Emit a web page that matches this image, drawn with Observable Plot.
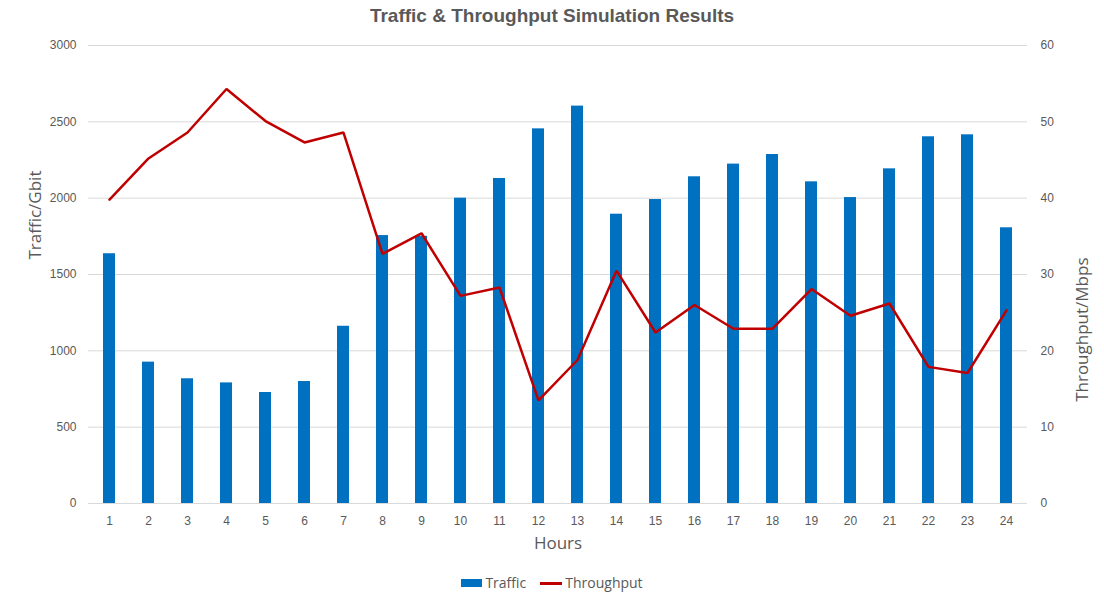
<!DOCTYPE html>
<html>
<head>
<meta charset="utf-8">
<script src="https://cdn.jsdelivr.net/npm/d3@7"></script>
<script src="https://cdn.jsdelivr.net/npm/@observablehq/plot@0.6"></script>
<style>
  html, body { margin: 0; padding: 0; background: #fff; }
  #wrap { position: relative; width: 1104px; height: 594px; overflow: hidden; font-family: "Liberation Sans", Arial, sans-serif; }
  #title { position: absolute; top: 5px; left: 0; width: 1104px; text-align: center; font-family: "Liberation Sans Narrow", "Liberation Sans", Arial, sans-serif; font-weight: bold; font-size: 19px; color: #595959; }
  #chart { position: absolute; top: 0; left: 0; }
  #legend { position: absolute; top: 574px; left: 0; width: 1104px; display: flex; justify-content: center; gap: 14px; font-family: "Open Sans", sans-serif; font-size: 14px; line-height: 18px; color: #595959; }
  .item { display: flex; align-items: center; gap: 3px; }
  .sw-bar { width: 21px; height: 8px; background: #0070C0; }
  .sw-line { width: 22px; height: 3px; background: #C00000; }
</style>
</head>
<body>
<div id="wrap">
  <div id="title">Traffic &amp; Throughput Simulation Results</div>
  <div id="chart"></div>
  <div id="legend">
    <div class="item"><div class="sw-bar"></div><span>Traffic</span></div>
    <div class="item"><div class="sw-line"></div><span>Throughput</span></div>
  </div>
</div>
<script>
const hours = [1,2,3,4,5,6,7,8,9,10,11,12,13,14,15,16,17,18,19,20,21,22,23,24];
const traffic = [1636,926,817,790,727,799,1161,1755,1750,2000,2129,2454,2603,1895,1991,2140,2223,2286,2107,2004,2192,2402,2415,1806];
const throughput = [39.8,45.2,48.6,54.3,50.1,47.3,48.6,32.7,35.4,27.2,28.3,13.5,18.8,30.5,22.4,26.0,22.9,22.9,28.1,24.6,26.2,17.9,17.1,25.3];
const leftTicks = [0,500,1000,1500,2000,2500,3000];
const rightTicks = [0,10,20,30,40,50,60];

const ratio = 3000 / 60;
const data = hours.map((h, i) => ({hour: h, traffic: traffic[i], tp: throughput[i], tpScaled: throughput[i] * ratio}));

const textColor = "#595959";

const chart = Plot.plot({
  width: 1104,
  height: 570,
  marginTop: 45,
  marginBottom: 67,
  marginLeft: 88,
  marginRight: 77,
  style: { fontFamily: "'Liberation Sans', Arial, sans-serif", color: textColor, background: "transparent" },
  x: { type: "band", domain: hours, paddingInner: 0.69, paddingOuter: 0.33 },
  y: { domain: [0, 3000] },
  marks: [
    Plot.gridY(leftTicks, { stroke: "#D9D9D9", strokeOpacity: 1, strokeWidth: 1 }),
    Plot.barY(data, { x: "hour", y: "traffic", fill: "#0070C0" }),
    Plot.line(data, { x: "hour", y: "tpScaled", stroke: "#C00000", strokeWidth: 2.5, strokeLinejoin: "miter" }),
    Plot.axisY(leftTicks, { anchor: "left", tickSize: 0, tickPadding: 12, fontSize: 12, label: null, fill: textColor, tickFormat: d => String(d) }),
    Plot.axisY(rightTicks.map(d => d * ratio), { anchor: "right", tickSize: 0, tickPadding: 13, fontSize: 12, label: null, fill: textColor, tickFormat: d => String(d / ratio) }),
    Plot.axisX({ tickSize: 0, tickPadding: 13, fontSize: 12, label: null, fill: textColor }),
    Plot.text(["Hours"], { frameAnchor: "bottom", dy: 45, fontSize: 17, fill: textColor, fontFamily: "'Open Sans', sans-serif" }),
    Plot.text(["Traffic/Gbit"], { frameAnchor: "left", dx: -53, dy: -15, rotate: -90, fontSize: 17, fill: textColor, fontFamily: "'Open Sans', sans-serif" }),
    Plot.text(["Throughput/Mbps"], { frameAnchor: "right", dx: 55, dy: -17, rotate: -90, fontSize: 17, fill: textColor, fontFamily: "'Open Sans', sans-serif" })
  ]
});
document.getElementById("chart").appendChild(chart);
</script>
</body>
</html>
